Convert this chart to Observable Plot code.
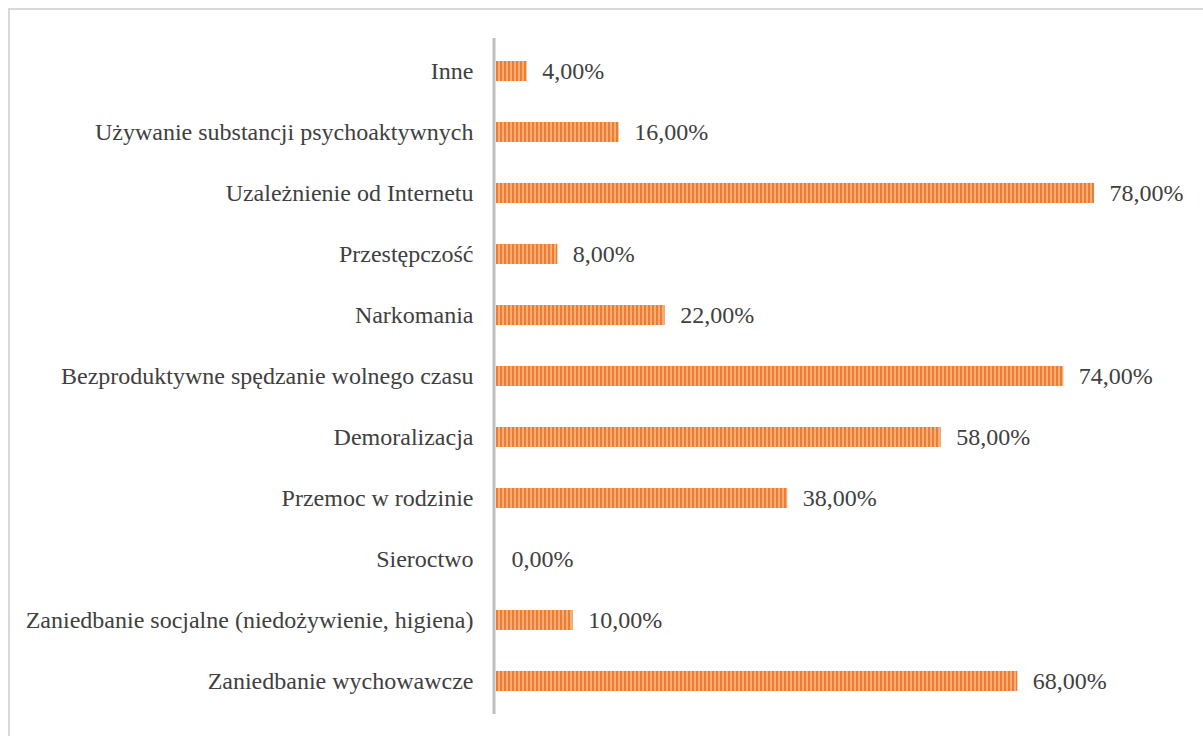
<!DOCTYPE html>
<html>
<head>
<meta charset="utf-8">
<script src="https://cdn.jsdelivr.net/npm/d3@7"></script>
<script src="https://cdn.jsdelivr.net/npm/@observablehq/plot@0.6"></script>
<style>
  html, body { margin: 0; padding: 0; background: #fff; overflow: hidden; }
  #wrap { position: relative; width: 1203px; height: 736px; }
  #frame { position: absolute; left: 8px; top: 8px; width: 1210px; height: 740px; border: 2px solid #d9d9d9; box-sizing: border-box; }
  #chart { position: absolute; left: 0; top: 0; }
</style>
</head>
<body>
<div id="wrap"><div id="frame"></div><div id="chart"></div></div>
<script>
const categories = [
  "Inne",
  "Używanie substancji psychoaktywnych",
  "Uzależnienie od Internetu",
  "Przestępczość",
  "Narkomania",
  "Bezproduktywne spędzanie wolnego czasu",
  "Demoralizacja",
  "Przemoc w rodzinie",
  "Sieroctwo",
  "Zaniedbanie socjalne (niedożywienie, higiena)",
  "Zaniedbanie wychowawcze"
];
const values = [4, 16, 78, 8, 22, 74, 58, 38, 0, 10, 68];
const labels = ["4,00%", "16,00%", "78,00%", "8,00%", "22,00%", "74,00%", "58,00%", "38,00%", "0,00%", "10,00%", "68,00%"];

const data = categories.map((c, i) => ({category: c, value: values[i], label: labels[i]}));

const plot = Plot.plot({
  width: 1203,
  height: 736,
  marginLeft: 496,
  marginRight: 109,
  marginTop: 38,
  marginBottom: 22,
  style: {fontFamily: "'Liberation Serif', 'Times New Roman', serif", fontSize: "24px", color: "#404040", background: "transparent"},
  x: {domain: [0, 78], axis: null},
  y: {domain: categories, paddingInner: 0.68, paddingOuter: 0.34, label: null},
  marks: [
    Plot.barX(data, {x: "value", y: "category", fill: "url(#stripes)"}),
    Plot.ruleX([0], {stroke: "#bfbfbf", strokeWidth: 3, dx: -2.5}),
    Plot.axisY({tickSize: 0, tickPadding: 23, fontSize: 24, fill: "#404040"}),
    Plot.text(data, {x: "value", y: "category", text: "label", textAnchor: "start", dx: 15, fontSize: 24, fill: "#404040"})
  ]
});

const ns = "http://www.w3.org/2000/svg";
const defs = document.createElementNS(ns, "defs");
const pat = document.createElementNS(ns, "pattern");
pat.setAttribute("id", "stripes");
pat.setAttribute("patternUnits", "userSpaceOnUse");
pat.setAttribute("x", "496");
pat.setAttribute("y", "0");
pat.setAttribute("width", "4");
pat.setAttribute("height", "10");
const r1 = document.createElementNS(ns, "rect");
r1.setAttribute("x", "0"); r1.setAttribute("y", "0"); r1.setAttribute("width", "4"); r1.setAttribute("height", "10");
r1.setAttribute("fill", "#f6ad78");
const r2 = document.createElementNS(ns, "rect");
r2.setAttribute("x", "0"); r2.setAttribute("y", "0"); r2.setAttribute("width", "2"); r2.setAttribute("height", "10");
r2.setAttribute("fill", "#ed7d31");
pat.appendChild(r1); pat.appendChild(r2);
defs.appendChild(pat);
plot.insertBefore(defs, plot.firstChild);

document.getElementById("chart").appendChild(plot);
</script>
</body>
</html>
